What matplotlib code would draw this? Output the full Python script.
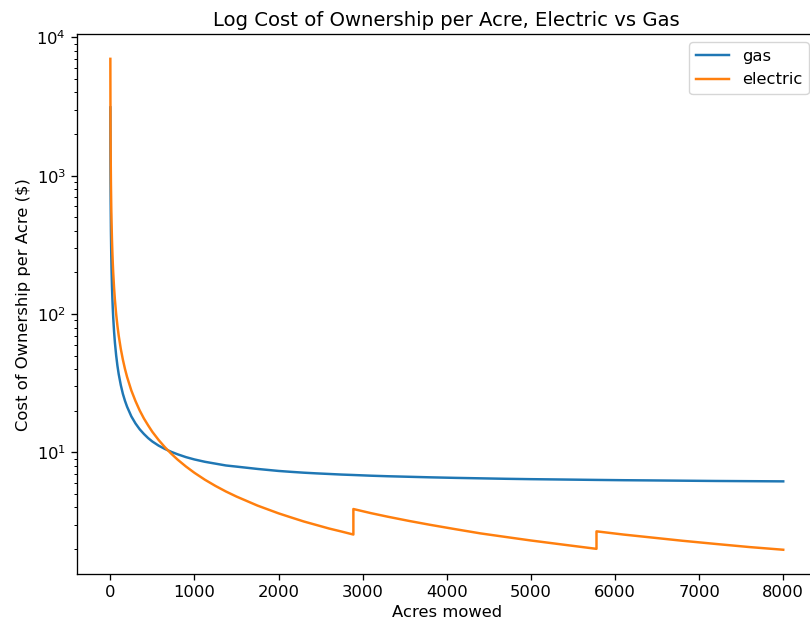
import matplotlib
matplotlib.use('Agg')
import matplotlib.pyplot as plt

# values (acres mowed -> $ per acre)
gas_acres = [1, 2, 3, 5, 8, 12, 15, 20, 25, 30,
             35, 45, 55, 70, 85, 100, 125, 150, 175, 200,
             250, 300, 350, 400, 450, 500, 575, 650, 725, 800,
             900, 1000, 1125, 1250, 1375, 1500, 1750, 2000, 2150, 2300,
             2450, 2600, 2750, 2890, 3100, 3300, 3550, 3800, 4100, 4400,
             4700, 5000, 5400, 5780, 6100, 6400, 6800, 7200, 7600, 8000]
gas_cost = [3120, 1563, 1044, 628.6, 395.0, 265.3, 213.4, 161.5, 130.4, 109.6,
            94.8, 75.0, 62.4, 50.3, 42.4, 36.9, 30.7, 26.5, 23.6, 21.4,
            18.25, 16.2, 14.7, 13.6, 12.7, 12.0, 11.2, 10.6, 10.1, 9.7,
            9.25, 8.9, 8.56, 8.3, 8.05, 7.9, 7.6, 7.35, 7.24, 7.14,
            7.06, 6.99, 6.92, 6.87, 6.79, 6.73, 6.67, 6.61, 6.55, 6.50,
            6.45, 6.41, 6.37, 6.33, 6.30, 6.28, 6.25, 6.22, 6.20, 6.18]

# battery replacement shows as the two steps (repeated acres)
elec_acres = [1, 2, 3, 5, 8, 12, 15, 20, 25, 30,
              35, 45, 55, 70, 85, 100, 125, 150, 175, 200,
              250, 300, 350, 400, 450, 500, 575, 650, 725, 800,
              900, 1000, 1125, 1250, 1375, 1500, 1750, 2000, 2150, 2300,
              2450, 2600, 2750, 2890, 2890, 3100, 3300, 3550, 3800, 4100,
              4400, 4700, 5000, 5400, 5780, 5780, 6100, 6400, 6800, 7200,
              7600, 8000]
elec_cost = [7000, 3500, 2333, 1400, 875, 583, 466.8, 350, 280.1, 233,
             200.1, 155.7, 127.4, 100.1, 82.5, 70.1, 56.1, 46.8, 40.1, 35.1,
             28.1, 23.5, 20.1, 17.6, 15.7, 14.1, 12.3, 10.9, 9.79, 8.88,
             7.91, 7.13, 6.35, 5.73, 5.22, 4.80, 4.13, 3.63, 3.39, 3.17,
             2.99, 2.82, 2.68, 2.55, 3.90, 3.64, 3.43, 3.20, 3.00, 2.79,
             2.60, 2.45, 2.31, 2.15, 2.01, 2.69, 2.55, 2.44, 2.30, 2.18,
             2.07, 1.98]

k = 1.18
plt.rcParams['font.size'] = 10 * k
plt.rcParams['axes.linewidth'] = 0.8 * k
plt.rcParams['xtick.major.width'] = 0.8 * k
plt.rcParams['ytick.major.width'] = 0.8 * k
plt.rcParams['ytick.minor.width'] = 0.6 * k
plt.rcParams['xtick.major.size'] = 3.5 * k
plt.rcParams['ytick.major.size'] = 3.5 * k
plt.rcParams['ytick.minor.size'] = 2 * k

fig = plt.figure(figsize=(8.1, 6.26), dpi=100)
# right spine falls just outside the saved image, as in the reference
ax = fig.add_axes([0.0947, 0.0826, 0.9138, 0.8626])

ax.plot(gas_acres, gas_cost, label='gas', lw=1.5 * k)
ax.plot(elec_acres, elec_cost, label='electric', lw=1.5 * k)
ax.set_yscale('log')
ax.set_xticks([0, 1000, 2000, 3000, 4000, 5000, 6000, 7000, 8000])

ax.set_title('Log Cost of Ownership per Acre, Electric vs Gas', fontsize=12 * k)
ax.set_xlabel('Acres mowed')
ax.set_ylabel('Cost of Ownership per Acre ($)')
ax.legend(loc='upper right')

fig.savefig('out.png', dpi=100)
